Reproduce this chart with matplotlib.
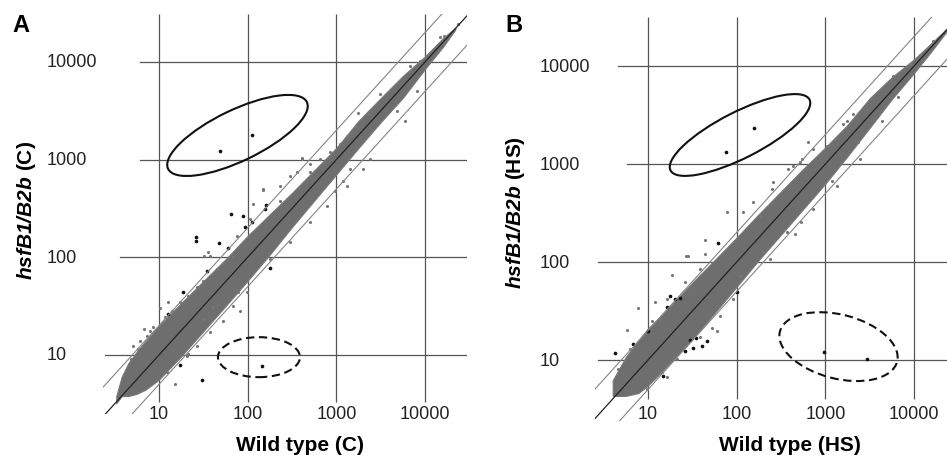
import matplotlib
matplotlib.use("Agg")
import matplotlib.pyplot as plt
from matplotlib.patches import Ellipse
from matplotlib import transforms

plt.rcParams["font.family"] = ["Liberation Sans", "DejaVu Sans"]
plt.rcParams["mathtext.fontset"] = "custom"
plt.rcParams["mathtext.bfit"] = "Liberation Sans:italic:bold"
plt.rcParams["mathtext.rm"] = "Liberation Sans:bold"

# grid / tick values
ticks = [10, 100, 1000, 10000]
tick_labels = ["10", "100", "1000", "10000"]
fold_lines = [0.5, 1, 2]

# ---- panel A (control) ----
# dense cloud envelope
a_cloud_x = [3.3, 3.8, 4.5, 5.6, 7, 10, 17.8, 31.6, 56, 100, 178, 316, 562,
             1000, 1778, 3162, 5623, 10000, 15850, 21900]
a_cloud_top = [3.8, 6.0, 8.2, 10.8, 13.8, 20, 34, 57, 95, 166, 276, 457, 776,
               1318, 2500, 4270, 7200, 11400, 17500, 22400]
a_cloud_bot = [3.2, 3.8, 3.8, 4.0, 4.4, 5.6, 9.7, 17.5, 31.5, 57.5, 107, 204, 380,
               708, 1318, 2420, 4300, 8500, 14200, 21400]
# scattered grey genes around the dense band
a_gray_x = [6.7, 7.9, 10.3, 12.7, 69, 21.4, 15, 31.6, 41, 82, 78, 5.1, 6.1, 37.6,
            406, 653, 300, 150, 504, 1196, 964, 1422, 1694, 231, 3105, 1766,
            14720, 16300, 8030, 6760, 8770, 23660, 2290, 1306, 4786, 5930, 408,
            148, 32, 35.6, 116,
            4.9, 5.85, 7.3, 8.6, 11.7, 13.9, 17.3, 21.4, 26.6, 31.6, 44.7,
            12.2, 20.5, 26.6, 37.6, 53, 68.9, 97.5,
            231, 356, 504, 847, 1096, 75, 106,
            178, 300, 504, 776, 1306, 2014, 2393]
a_gray_y = [18.5, 17.7, 30, 34.6, 100, 10.2, 5.0, 23.3, 30.8, 28.4, 44, 12.4, 14, 102,
            1014, 1014, 684, 500, 741, 608, 480, 802, 2138, 380, 4690, 3000,
            17870, 18600, 5070, 9140, 10280, 24430, 2930, 1758, 3162, 2500, 1050,
            490, 102, 112, 352,
            9.1, 11.5, 15.8, 19.2, 24.3, 28.4, 34.6, 40.5, 49.3, 57.7, 75.9,
            6.65, 9.8, 12.4, 17.1, 22.4, 32, 43.9,
            541, 741, 902, 1189, 1445, 166, 247,
            96, 142, 228, 338, 541, 802, 1014]
# highlighted (black) genes
a_black_x = [48.7, 112, 145, 65, 89, 111, 93, 161, 26, 26, 47, 60, 178, 18.6,
             17.3, 30.5, 12.7, 34.5, 157]
a_black_y = [1225, 1786, 7.7, 277, 267, 228, 206, 343, 161, 147, 140, 124, 77, 44,
             7.9, 5.5, 26.3, 73, 312]

# ---- panel B (heat stress) ----
b_cloud_x = [4.0, 5.6, 7.8, 10, 17.8, 31.6, 56, 100, 178, 316, 562, 1000, 1778,
             3162, 5623, 10000, 15850, 25000]
b_cloud_top = [6.2, 10.7, 15.9, 20.9, 35.5, 61.7, 104, 178, 309, 525, 891, 1479, 2512,
               4700, 7700, 11700, 17300, 25580]
b_cloud_bot = [4.3, 4.3, 4.6, 5.5, 9.3, 16.2, 30, 56, 105, 190, 347, 631, 1202,
               2344, 4600, 8500, 14300, 24430]
b_gray_x = [641, 516, 77, 119, 44, 27, 18.5, 5.75, 7.8, 531, 12, 13.6, 52, 59.5,
            16.2, 28.5, 44, 382, 541, 248, 183, 454, 1178, 2350, 1738, 1035, 237,
            5830, 4305, 2066, 1593, 8990, 11600, 16480, 6640,
            4.6, 6.3, 11, 16.2, 26.1, 38.5,
            9.7, 14.3, 21, 38.5, 65, 91.6,
            154, 259, 435, 731,
            109, 200, 366, 731, 1340, 2455]
b_gray_y = [1690, 1040, 326, 321, 169, 116, 73.6, 20.2, 33.7, 254, 39.4, 25.8, 21, 19.9,
            6.7, 116, 121, 889, 1125, 556, 297, 193, 676, 1665, 2770, 1538, 107,
            7960, 2770, 3236, 2560, 10470, 13100, 18100, 4800,
            8.1, 12.9, 25.2, 41.9, 62, 85,
            5.06, 7.5, 10.2, 17.1, 28.3, 41.9,
            406, 650, 961, 1422,
            72.4, 126, 201, 348, 601, 1125]
b_black_x = [75, 158, 973, 2966, 62, 4.3, 100, 17.7, 20.1, 22.9, 16.2, 10.1, 6.8,
             29.8, 34.8, 40.3, 32.4, 45.9, 26.1, 14.9]
b_black_y = [1336, 2312, 12.0, 10.2, 155, 11.7, 49, 45.3, 41.9, 42.6, 34.5, 19.9, 14.6,
             16.1, 16.6, 14, 13.2, 15.7, 12.4, 6.9]

CLOUD = "#6e6e6e"
GRID = "#555555"

fig = plt.figure(figsize=(9.47, 4.56), dpi=100)
W, H = 947.0, 456.0


def px_ax(l, r, t, b):
    return fig.add_axes([l / W, 1 - b / H, (r - l) / W, (b - t) / H])


def ellipse(ax, cx, cy, w, h, ang, ls):
    t = fig.dpi_scale_trans + transforms.ScaledTranslation(cx, cy, ax.transData)
    e = Ellipse((0, 0), w / 100, h / 100, angle=ang, transform=t, fill=False,
                lw=1.5, ec="#111111", linestyle=ls, zorder=6)
    e.set_clip_on(False)
    fig.add_artist(e)


def panel(ax, xlim, ylim, cx, ctop, cbot, gx, gy, bx, by, hstart, vbottom,
          ylab_x, letter, letter_xy, xlabel, ylabel, xlabel_xy, ylabel_xy):
    ax.set_xscale("log")
    ax.set_yscale("log")
    ax.set_xlim(xlim)
    ax.set_ylim(ylim)
    for s in ax.spines.values():
        s.set_visible(False)
    ax.set_xticks([])
    ax.set_yticks([])
    ax.minorticks_off()
    ax.set_facecolor("none")

    # grid lines
    for t, x0 in zip(ticks, hstart):
        ax.plot([x0, xlim[1]], [t, t], color=GRID, lw=0.9, zorder=1)
    ax.vlines(ticks, vbottom, ylim[1], color=GRID, lw=0.9, zorder=1)

    ax.fill_between(cx, cbot, ctop, color=CLOUD, lw=0.8, ec="#787878", zorder=2)
    ax.scatter(gx, gy, s=5, color="#767676", lw=0, zorder=3)
    ax.scatter(bx, by, s=7, color="#111111", lw=0, zorder=3)

    for f in fold_lines:
        if f == 1:
            ax.axline((1, 1), (10, 10), color="#222222", lw=0.9, zorder=4)
        else:
            ax.axline((1, f), (10, 10 * f), color="#858585", lw=0.8, zorder=4)

    tr_y = transforms.blended_transform_factory(fig.transFigure, ax.transData)
    for t, lab in zip(ticks, tick_labels):
        ax.text(ylab_x / W, t, lab, transform=tr_y, ha="left", va="center",
                fontsize=13, color="#222222")
    tr_x = transforms.blended_transform_factory(ax.transData, fig.transFigure)
    for t, lab in zip(ticks, tick_labels):
        ax.text(t, 1 - 415 / H, lab, transform=tr_x, ha="center", va="center",
                fontsize=13, color="#222222")

    fig.text(letter_xy[0] / W, 1 - letter_xy[1] / H, letter, fontsize=17,
             fontweight="bold", ha="center", va="center")
    fig.text(xlabel_xy[0] / W, 1 - xlabel_xy[1] / H, xlabel, fontsize=15,
             fontweight="bold", ha="center", va="center")
    fig.text(ylabel_xy[0] / W, 1 - ylabel_xy[1] / H, ylabel, fontsize=15,
             fontweight="bold", ha="center", va="center", rotation=90)


axA = px_ax(103, 467, 15, 415)
panel(axA, (10 ** 0.369, 10 ** 4.472), (10 ** 0.396, 10 ** 4.49),
      a_cloud_x, a_cloud_top, a_cloud_bot, a_gray_x, a_gray_y, a_black_x, a_black_y,
      hstart=[2.46, 3.63, 6.1, 6.1], vbottom=3.3, ylab_x=47, letter="A",
      letter_xy=(21, 25), xlabel="Wild type (C)",
      ylabel=r"$\mathbfit{hsfB1/B2b}$ (C)", xlabel_xy=(300, 446), ylabel_xy=(26, 210))

axB = px_ax(595, 947, 18, 422)
panel(axB, (10 ** 0.4025, 10 ** 4.371), (10 ** 0.3776, 10 ** 4.5),
      b_cloud_x, b_cloud_top, b_cloud_bot, b_gray_x, b_gray_y, b_black_x, b_black_y,
      hstart=[2.73, 2.73, 5.8, 4.6], vbottom=4.0, ylab_x=540, letter="B",
      letter_xy=(514, 26), xlabel="Wild type (HS)",
      ylabel=r"$\mathbfit{hsfB1/B2b}$ (HS)", xlabel_xy=(790, 446), ylabel_xy=(515, 213))

# circled gene groups
ellipse(axA, 76.7, 1766, 154, 51, 25.7, "-")
ellipse(axA, 134, 9.5, 82, 40, 0, (0, (4, 2.2)))
ellipse(axB, 109, 1977, 156, 46, 27.0, "-")
ellipse(axB, 1406, 13.7, 121, 64, -14.4, (0, (4, 2.2)))

fig.savefig("out.png", dpi=100)
